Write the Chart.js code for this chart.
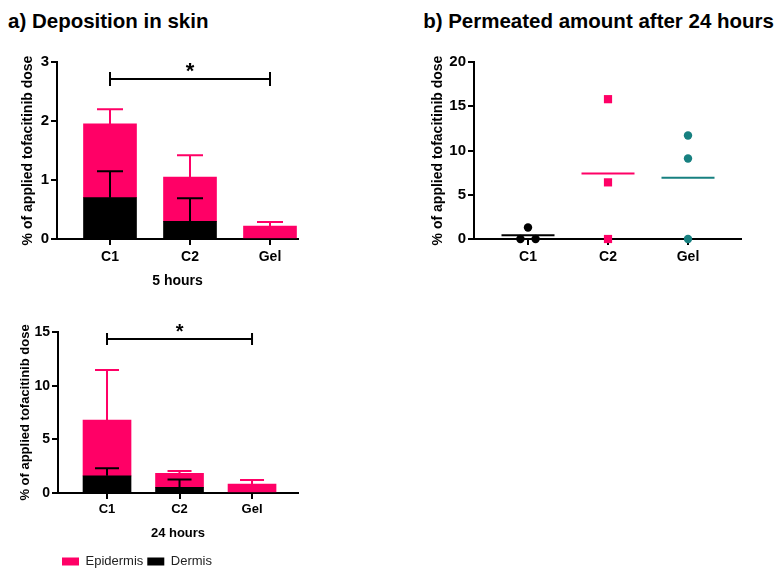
<!DOCTYPE html>
<html><head><meta charset="utf-8">
<script src="https://cdn.jsdelivr.net/npm/chart.js@4.4.1/dist/chart.umd.min.js"></script>
<style>
html,body{margin:0;padding:0;background:#fff;overflow:hidden;width:776px;height:570px;}
.t{position:absolute;font:bold 20.5px "Liberation Sans",Arial,sans-serif;line-height:20px;color:#000;white-space:nowrap;}
canvas{position:absolute;}
</style></head><body>
<div class="t" style="left:8px;top:11px">a) Deposition in skin</div>
<div class="t" style="right:2px;top:11px">b) Permeated amount after 24 hours</div>
<canvas id="c5" width="300" height="260" style="left:0;top:40px"></canvas>
<canvas id="c24" width="300" height="273" style="left:0;top:305px"></canvas>
<canvas id="cp" width="356" height="260" style="left:420px;top:40px"></canvas>
<script>
// ---------- data ----------
const categories = ['C1', 'C2', 'Gel'];
const seriesNames = ['Dermis', 'Epidermis'];

const dermis5h = [0.70, 0.30, 0.00];
const epidermis5h = [1.25, 0.75, 0.22];
const dermis5hSD = [0.45, 0.39, 0];
const epidermis5hSD = [0.25, 0.37, 0.07];
const yTicks5h = [0, 1, 2, 3];
const sig5h = ['C1', 'Gel'];
const sigLevel5h = 2.71;

const dermis24h = [1.60, 0.53, 0.00];
const epidermis24h = [5.20, 1.30, 0.84];
const dermis24hSD = [0.70, 0.73, 0];
const epidermis24hSD = [4.66, 0.22, 0.37];
const yTicks24h = [0, 5, 10, 15];
const sig24h = ['C1', 'Gel'];
const sigLevel24h = 14.35;

const permeatedC1 = [0, 0, 1.3];
const permeatedC2 = [15.8, 6.4, 0];
const permeatedGel = [11.7, 9.1, 0];
const yTicksPerm = [0, 5, 10, 15, 20];

// ---------- style ----------
const FONT = '"Liberation Sans", Arial, Helvetica, sans-serif';
const PINK = '#ff0066';
const TEAL = '#178080';
const BLACK = '#000000';

// ---------- plugins ----------
const errorBarPlugin = {
  id: 'errBars',
  afterDatasetsDraw(chart, args, opts) {
    if (!opts || !opts.sets) return;
    const ctx = chart.ctx, ys = chart.scales.y, xs = chart.scales.x;
    ctx.save();
    ctx.lineWidth = 2;
    opts.sets.forEach(set => {
      set.sd.forEach((sd, i) => {
        if (!sd) return;
        let top = 0;
        for (let k = 0; k <= set.dataset; k++) top += opts.values[k][i];
        const x = xs.getPixelForValue(i + 1);
        const y0 = ys.getPixelForValue(top);
        const y1 = ys.getPixelForValue(top + sd);
        ctx.strokeStyle = set.color;
        ctx.beginPath();
        ctx.moveTo(x, y0); ctx.lineTo(x, y1);
        ctx.moveTo(x - opts.cap / 2, y1); ctx.lineTo(x + opts.cap / 2, y1);
        ctx.stroke();
      });
    });
    ctx.restore();
  }
};
const bracketPlugin = {
  id: 'bracket',
  afterDatasetsDraw(chart, args, opts) {
    if (!opts || !opts.pair) return;
    const ctx = chart.ctx, ys = chart.scales.y, xs = chart.scales.x;
    const xa = xs.getPixelForValue(categories.indexOf(opts.pair[0]) + 1);
    const xb = xs.getPixelForValue(categories.indexOf(opts.pair[1]) + 1);
    const y = ys.getPixelForValue(opts.level);
    ctx.save();
    ctx.strokeStyle = '#000'; ctx.lineWidth = 2;
    ctx.beginPath();
    ctx.moveTo(xa, y); ctx.lineTo(xb, y);
    ctx.moveTo(xa, y - opts.cap); ctx.lineTo(xa, y + opts.cap);
    ctx.moveTo(xb, y - opts.cap); ctx.lineTo(xb, y + opts.cap);
    ctx.stroke();
    ctx.fillStyle = '#000';
    ctx.font = 'bold ' + opts.size + 'px ' + FONT;
    ctx.textAlign = 'center'; ctx.textBaseline = 'alphabetic';
    ctx.fillText(opts.text, (xa + xb) / 2, y - opts.gap);
    ctx.restore();
  }
};
const meanPlugin = {
  id: 'meanLines',
  afterDatasetsDraw(chart, args, opts) {
    if (!opts || !opts.groups) return;
    const ctx = chart.ctx, ys = chart.scales.y, xs = chart.scales.x;
    ctx.save(); ctx.lineWidth = 2;
    opts.groups.forEach((g, i) => {
      const m = g.values.reduce((a, b) => a + b, 0) / g.values.length;
      const x = xs.getPixelForValue(i + 1), y = ys.getPixelForValue(m);
      ctx.strokeStyle = g.color;
      ctx.beginPath(); ctx.moveTo(x - opts.half, y); ctx.lineTo(x + opts.half, y); ctx.stroke();
    });
    ctx.restore();
  }
};
Chart.register(errorBarPlugin, bracketPlugin, meanPlugin);

// ---------- helpers ----------
function xAxis(min, max, fs, pad, h, title, tfs) {
  return {
    type: 'linear', min, max, stacked: true, offset: false,
    afterBuildTicks: s => { s.ticks = categories.map((c, i) => ({ value: i + 1 })); },
    afterFit: s => { s.height = h; },
    ticks: { callback: v => categories[v - 1] ?? '', font: { family: FONT, size: fs, weight: 'bold' }, color: '#000', padding: pad, autoSkip: false, maxRotation: 0 },
    grid: { offset: false, drawOnChartArea: false, drawTicks: true, tickLength: 6, color: '#000', lineWidth: 2 },
    border: { display: true, color: '#000', width: 2 },
    title: title ? { display: true, text: title, color: '#000', font: { family: FONT, size: tfs, weight: 'bold' }, padding: { top: 0, bottom: 10 } } : { display: false }
  };
}
function yAxis(ticksArr, fs, w, tpad, tfs) {
  return {
    type: 'linear', min: ticksArr[0], max: ticksArr[ticksArr.length - 1], stacked: true,
    afterBuildTicks: s => { s.ticks = ticksArr.map(v => ({ value: v })); },
    afterFit: s => { s.width = w; },
    ticks: { font: { family: FONT, size: fs, weight: 'bold' }, color: '#000', padding: 2 },
    grid: { drawOnChartArea: false, drawTicks: true, tickLength: 6, color: '#000', lineWidth: 2 },
    border: { display: true, color: '#000', width: 2 },
    title: { display: true, text: '% of applied tofacitinib dose', color: '#000', font: { family: FONT, size: tfs, weight: 'bold' }, padding: { top: tpad, bottom: 0 } }
  };
}
function barDatasets(dermis, epi, thick) {
  return [
    { label: seriesNames[0], data: dermis.map((v, i) => ({ x: i + 1, y: v })), backgroundColor: BLACK, borderWidth: 0, barThickness: thick },
    { label: seriesNames[1], data: epi.map((v, i) => ({ x: i + 1, y: v })), backgroundColor: PINK, borderWidth: 0, barThickness: thick }
  ];
}
function spread(values, idx, step) {
  return values.map((v, j) => {
    const same = values.map((w, k) => w === v ? k : -1).filter(k => k >= 0);
    const pos = same.indexOf(j);
    return { x: idx + (pos - (same.length - 1) / 2) * step, y: v };
  });
}
const base = { responsive: false, animation: false, events: [] };

// ---------- 5 hours ----------
new Chart(document.getElementById('c5'), {
  type: 'bar',
  data: { datasets: barDatasets(dermis5h, epidermis5h, 53) },
  options: Object.assign({}, base, {
    layout: { padding: { top: 22, right: 2, left: 0, bottom: 0 } },
    scales: { x: xAxis(0.3375, 3.35, 14, 4, 61, '5 hours', 14), y: yAxis(yTicks5h, 15, 57, 20, 14) },
    plugins: {
      legend: { display: false }, tooltip: { enabled: false },
      errBars: { values: [dermis5h, epidermis5h], cap: 26, sets: [{ dataset: 1, sd: epidermis5hSD, color: PINK }, { dataset: 0, sd: dermis5hSD, color: BLACK }] },
      bracket: { pair: sig5h, level: sigLevel5h, cap: 7, text: '*', size: 22, gap: 1 }
    }
  })
});

// ---------- 24 hours ----------
new Chart(document.getElementById('c24'), {
  type: 'bar',
  data: { datasets: barDatasets(dermis24h, epidermis24h, 48) },
  options: Object.assign({}, base, {
    layout: { padding: { top: 27, right: 2, left: 0, bottom: 0 } },
    scales: { x: xAxis(0.324, 3.634, 13, 3, 58, '24 hours', 13), y: yAxis(yTicks24h, 14, 58, 18, 13) },
    plugins: {
      legend: { display: true, position: 'bottom', align: 'start', fullSize: false, reverse: true,
        labels: { boxWidth: 17, boxHeight: 8, padding: 4, color: '#222', font: { family: FONT, size: 13 } } },
      tooltip: { enabled: false },
      errBars: { values: [dermis24h, epidermis24h], cap: 24, sets: [{ dataset: 1, sd: epidermis24hSD, color: PINK }, { dataset: 0, sd: dermis24hSD, color: BLACK }] },
      bracket: { pair: sig24h, level: sigLevel24h, cap: 6, text: '*', size: 20, gap: 1 }
    }
  })
});

// ---------- permeated ----------
const permGroups = [permeatedC1, permeatedC2, permeatedGel];
const permColors = [BLACK, PINK, TEAL];
const permStyles = ['circle', 'rect', 'circle'];
new Chart(document.getElementById('cp'), {
  type: 'scatter',
  data: {
    datasets: permGroups.map((vals, i) => ({
      label: categories[i], data: spread(vals, i + 1, 0.19),
      pointStyle: permStyles[i], pointRadius: permStyles[i] === 'rect' ? 5.8 : 4.2,
      backgroundColor: permColors[i], borderColor: permColors[i], borderWidth: 0, clip: false
    }))
  },
  options: Object.assign({}, base, {
    layout: { padding: { top: 22, right: 35, left: 0, bottom: 0 } },
    scales: { x: xAxis(0.325, 3.6625, 14, 4, 61, null, 14), y: yAxis(yTicksPerm, 15, 54, 10, 14) },
    plugins: {
      legend: { display: false }, tooltip: { enabled: false },
      meanLines: { half: 26.5, groups: permGroups.map((v, i) => ({ values: v, color: permColors[i] })) }
    }
  })
});
</script>
</body></html>
